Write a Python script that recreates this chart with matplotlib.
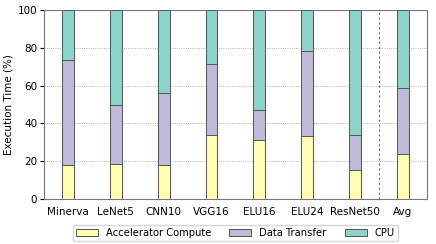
import matplotlib.pyplot as plt
import numpy as np

# execution time breakdown per network (%)
networks = ['Minerva', 'LeNet5', 'CNN10', 'VGG16', 'ELU16', 'ELU24', 'ResNet50', 'Avg']
accel = [18.0, 18.5, 18.0, 33.7, 31.0, 33.3, 15.2, 24.0]
transfer_top = [73.4, 49.6, 55.9, 71.2, 46.9, 78.1, 33.7, 58.6]
transfer = [t - a for t, a in zip(transfer_top, accel)]
cpu = [100 - t for t in transfer_top]

plt.rcParams['font.size'] = 7.5
fig = plt.figure(figsize=(4.36, 2.44), dpi=100)
ax = fig.add_axes([0.101, 0.184, 0.878, 0.775])

x = np.arange(len(networks))
w = 0.25
ec = '#555555'
ax.bar(x, accel, w, color='#ffffb3', edgecolor=ec, linewidth=0.7, label='Accelerator Compute', zorder=3)
ax.bar(x, transfer, w, bottom=accel, color='#bebada', edgecolor=ec, linewidth=0.7, label='Data Transfer', zorder=3)
ax.bar(x, cpu, w, bottom=transfer_top, color='#8dd3c7', edgecolor=ec, linewidth=0.7, label='CPU', zorder=3)

ax.axvline(6.5, color='#555555', linestyle='--', linewidth=0.7, dashes=(2, 3))
ax.set_xlim(-0.5, 7.5)
ax.set_ylim(0, 100)
ax.set_yticks([0, 20, 40, 60, 80, 100])
ax.set_xticks(x)
ax.set_xticklabels(networks)
ax.set_ylabel('Execution Time (%)', labelpad=3)
ax.yaxis.grid(True, linestyle=':', color='#999999', linewidth=0.6, zorder=0)
ax.tick_params(axis='x', length=0, pad=6)
ax.tick_params(axis='y', length=3, pad=2)
for s in ax.spines.values():
    s.set_color('#777777')

ax.legend(loc='upper center', bbox_to_anchor=(0.5, -0.11), ncol=3, frameon=True,
          fontsize=7.2, handlelength=2.2, columnspacing=1.8, borderpad=0.3,
          handleheight=0.7, handletextpad=0.8)

fig.savefig('out.png', dpi=100)
